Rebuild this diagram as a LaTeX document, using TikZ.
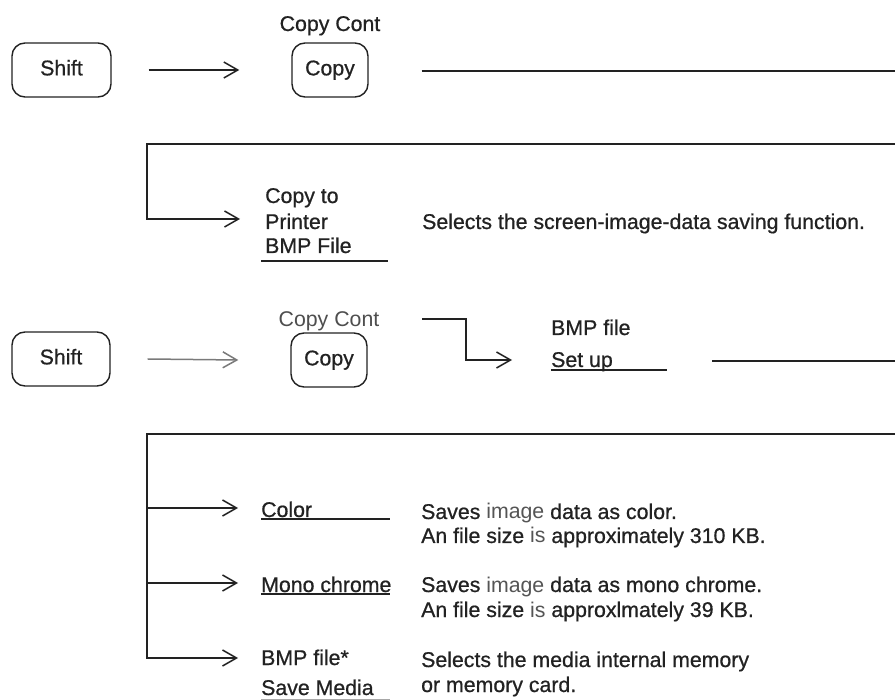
\documentclass[tikz,border=0pt]{standalone}
\usepackage{fontspec}
\setmainfont{Liberation Sans}[FakeBold=0.7]
\newfontfamily\lightfont{Liberation Sans}
\usetikzlibrary{arrows.meta}
\definecolor{ink}{HTML}{222222}
\definecolor{soft}{HTML}{555555}
\newcommand{\thin}[1]{{\lightfont\textcolor{soft}{#1}}}
\begin{document}
\begin{tikzpicture}[x=1pt,y=-1pt,
  every node/.style={font=\fontsize{21.3}{25}\selectfont, text=ink, inner sep=0pt},
  keybox/.style={draw=ink, line width=1.4pt, rounded corners=13pt, minimum height=54pt,
                 text height=14.7pt, text depth=4pt},
  ln/.style={draw=ink, line width=1.5pt},
  arr/.style={ln, -{Straight Barb[length=14pt,width=16pt]}},
  lbl/.style={anchor=base west},
  ctr/.style={anchor=base},
  ul/.style={draw=ink, line width=1.5pt}]
\useasboundingbox[fill=white] (0,0) rectangle (895,700);

% ---------- section 1 ----------
\node[keybox, minimum width=99pt] (s1) at (61.5,70) {Shift};
\node[keybox, minimum width=76pt] (c1) at (330,70) {Copy};
\node[ctr] (cc1) at (330,31) {Copy Cont};
\draw[arr] ([xshift=37pt]s1.east) -- ([xshift=-52pt]c1.west);
\coordinate (r1) at (895,71);
\draw[ln] ([xshift=53pt]c1.east |- r1) -- (r1);

% ---------- section 2 ----------
\coordinate (b2r) at (895,144);
\coordinate (b2c) at (147,144);
\coordinate (b2d) at (147,219);
\coordinate (b2e) at (240,219);
\draw[arr] (b2r) -- (b2c) -- (b2d) -- (b2e);
\node[lbl] (p1) at (265,203) {Copy to};
\node[lbl] (p2) at (265,229) {Printer};
\node[lbl] (p3) at (265,253) {BMP File};
\draw[ul] (261,261) -- (388,261);
\node[lbl] (d1) at (422,229) {Selects the screen-image-data saving function.};

% ---------- section 3 ----------
\node[keybox, minimum width=98pt] (s2) at (61,359) {Shift};
\node[keybox, minimum width=76pt] (c2) at (329,360) {Copy};
\node[ctr, text=ink!80, font=\lightfont\fontsize{21.3}{25}\selectfont] (cc2) at (329,327) {Copy Cont};
\draw[arr, draw=ink!60] ([xshift=37pt]s2.east) -- ([xshift=-52pt]c2.west);
\coordinate (t3a) at (422,319);
\coordinate (t3b) at (466,319);
\coordinate (t3c) at (512,360);
\draw[arr] (t3a) -- (t3b) |- (t3c);
\node[lbl] (bf) at (551,335) {BMP file};
\node[lbl] (su) at (551,367) {Set up};
\draw[ul] (551,370) -- (667,370);
\coordinate (r3) at (895,361);
\draw[ln] (712,361) -- (r3);

% ---------- section 4 ----------
\coordinate (b4r) at (895,434);
\coordinate (b4c) at (147,434);
\coordinate (b4d) at (147,658);
\coordinate (b4e) at (238,658);
\coordinate (b4a) at (147,508);
\coordinate (b4b) at (147,583);
\draw[arr] (b4r) -- (b4c) -- (b4d) -- (b4e);
\draw[arr] (b4a) -- (238,508);
\draw[arr] (b4b) -- (238,583);

\node[lbl] (o1) at (261,517) {Color};
\draw[ul] (261,519) -- (390,519);
\node[lbl] (o2) at (261,592) {Mono chrome};
\draw[ul] (261,594) -- (390,594);
\node[lbl] (o3) at (261,665) {BMP file*};
\node[lbl] (o4) at (261,695) {Save Media};
\draw[ul, draw=ink!40, line width=1pt] (261,699) -- (390,699);

\node[lbl] (e1) at (421,519) {Saves \thin{image} data as color.};
\node[lbl] (e2) at (421,543) {An file size \thin{is} approximately 310 KB.};
\node[lbl] (e3) at (421,592) {Saves \thin{image} data as mono chrome.};
\node[lbl] (e4) at (421,617) {An file size \thin{is} approxlmately 39 KB.};
\node[lbl] (e5) at (421,667) {Selects the media internal memory};
\node[lbl] (e6) at (421,692) {or memory card.};
\end{tikzpicture}
\end{document}
